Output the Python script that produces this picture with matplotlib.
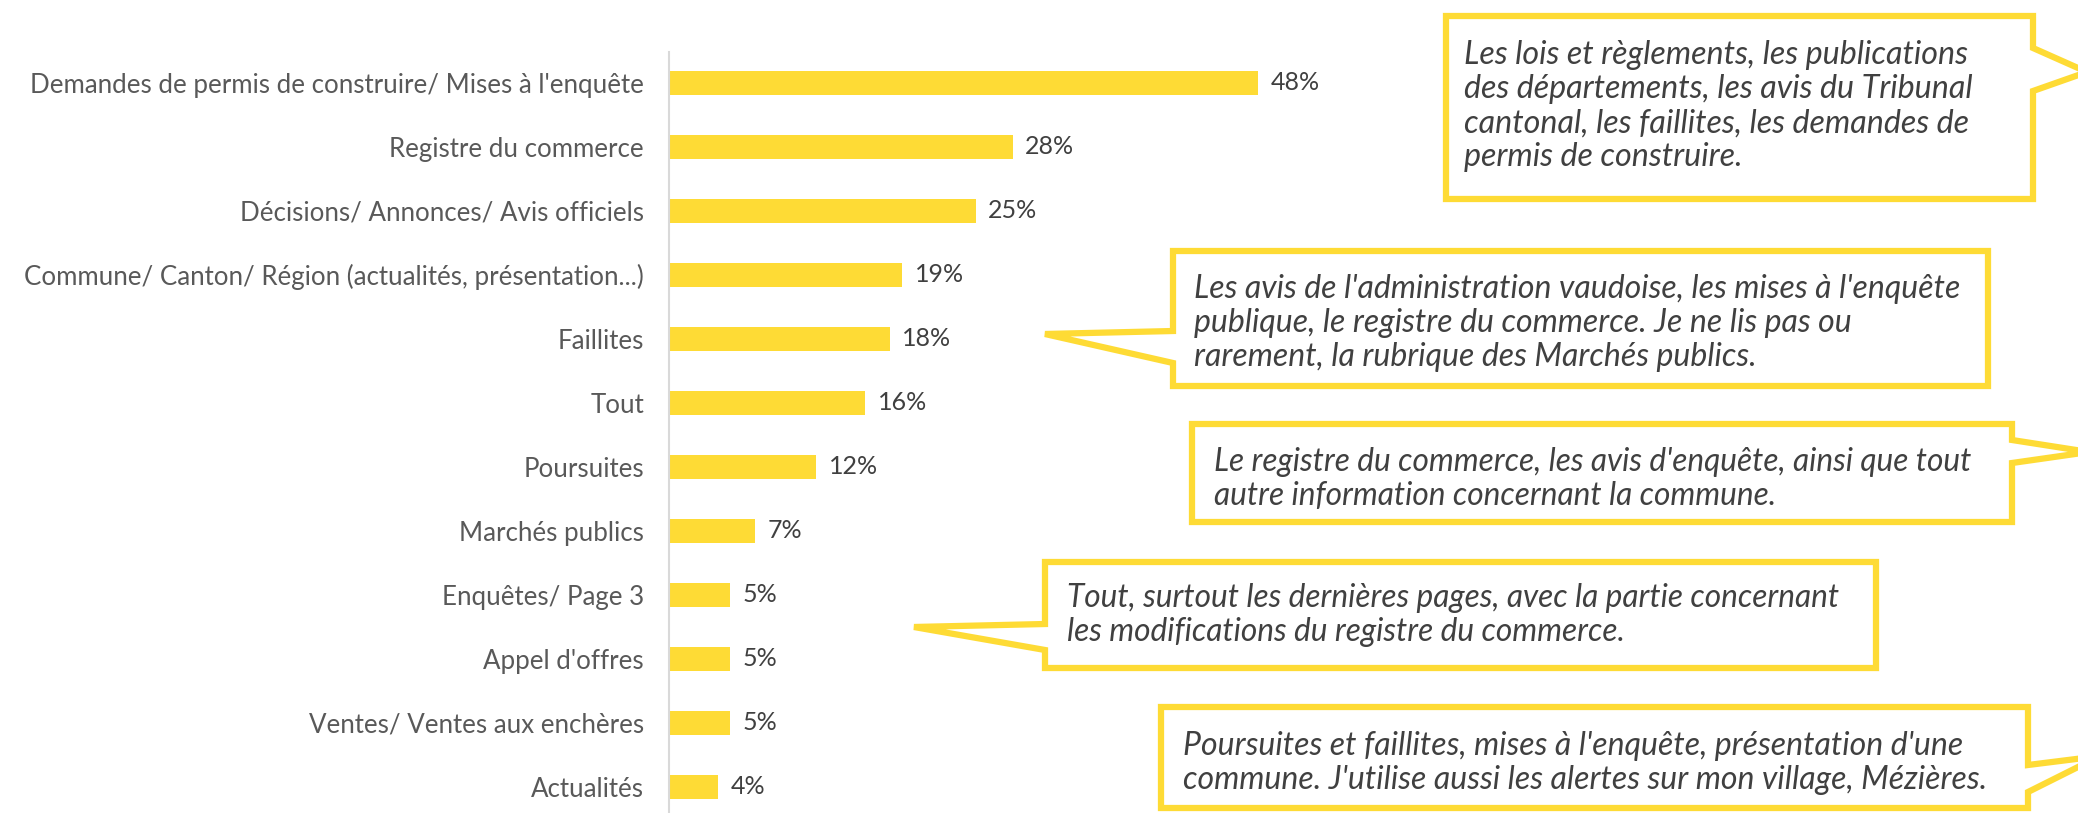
import matplotlib.pyplot as plt
from matplotlib.patches import Polygon
from matplotlib import font_manager

categories = [
    "Demandes de permis de construire/ Mises à l'enquête",
    "Registre du commerce",
    "Décisions/ Annonces/ Avis officiels",
    "Commune/ Canton/ Région (actualités, présentation...)",
    "Faillites",
    "Tout",
    "Poursuites",
    "Marchés publics",
    "Enquêtes/ Page 3",
    "Appel d'offres",
    "Ventes/ Ventes aux enchères",
    "Actualités",
]
values = [48, 28, 25, 19, 18, 16, 12, 7, 5, 5, 5, 4]

quotes = [
    "Les lois et règlements, les publications\ndes départements, les avis du Tribunal\n"
    "cantonal, les faillites, les demandes de\npermis de construire.",
    "Les avis de l'administration vaudoise, les mises à l'enquête\n"
    "publique, le registre du commerce. Je ne lis pas ou\n"
    "rarement, la rubrique des Marchés publics.",
    "Le registre du commerce, les avis d'enquête, ainsi que tout\n"
    "autre information concernant la commune.",
    "Tout, surtout les dernières pages, avec la partie concernant\n"
    "les modifications du registre du commerce.",
    "Poursuites et faillites, mises à l'enquête, présentation d'une\n"
    "commune. J'utilise aussi les alertes sur mon village, Mézières.",
]


def pick(names):
    for n in names:
        try:
            font_manager.findfont(font_manager.FontProperties(family=n),
                                  fallback_to_default=False)
            return n
        except ValueError:
            pass
    return "DejaVu Sans"


main_font = pick(["Lato", "Roboto", "DejaVu Sans"])

yellow = "#FEDB35"
W, H = 2078, 813
fig = plt.figure(figsize=(W / 100, H / 100), dpi=100)

# bar area: x=0 at 669 px, 12.27 px per percent, axis line from y=52 px down
ax = fig.add_axes([669 / W, 0, 50 * 12.27 / W, (H - 52) / H])
bars = ax.barh(range(len(values)), values, height=0.375, color=yellow)
ax.set_xlim(0, 50)
ax.set_ylim(11.414, -0.477)
ax.set_yticks(range(len(categories)))
ax.set_yticklabels(categories, fontsize=18.6, color="#595959", family=main_font)
ax.tick_params(axis="y", length=0, pad=18)
ax.set_xticks([])
for s in ["top", "right", "bottom"]:
    ax.spines[s].set_visible(False)
ax.spines["left"].set_color("#d9d9d9")
ax.spines["left"].set_linewidth(1.5)
ax.bar_label(bars, labels=[f"{v}%" for v in values], padding=9,
             fontsize=18, color="#404040", family=main_font)

# callout boxes in pixel coords (left, top, right, bottom, side, y1, y2, tip)
boxes = [
    (1446, 16, 2033, 199, "right", 48, 91, (2087, 72)),
    (1173, 251, 1988, 386, "left", 331, 363, (1045, 334)),
    (1192, 424, 2012, 522, "right", 440, 463, (2089, 452)),
    (1045, 562, 1876, 668, "left", 624, 650, (914, 627)),
    (1161, 707, 2028, 808, "right", 765, 792, (2100, 756)),
]
text_pos = [(1464, 106), (1194, 323), (1214, 479), (1067, 615), (1183, 763)]
text_size = [23.2, 23.0, 22.8, 22.8, 23.0]


def px(x, y):
    return (x / W, 1 - y / H)


for (l, t, r, b, side, y1, y2, tip), quote, (tx, ty), fs in zip(boxes, quotes, text_pos, text_size):
    if side == "right":
        pts = [(l, t), (r, t), (r, y1), tip, (r, y2), (r, b), (l, b)]
    else:
        pts = [(l, t), (r, t), (r, b), (l, b), (l, y2), tip, (l, y1)]
    poly = Polygon([px(*p) for p in pts], closed=True, transform=fig.transFigure,
                   facecolor="white", edgecolor=yellow, linewidth=4.5, joinstyle="miter")
    fig.add_artist(poly)
    fig.text(tx / W, 1 - ty / H, quote, ha="left", va="center", fontsize=fs,
             style="italic", color="#404040", family=main_font, linespacing=1.17)

fig.savefig("out.png", dpi=100)
